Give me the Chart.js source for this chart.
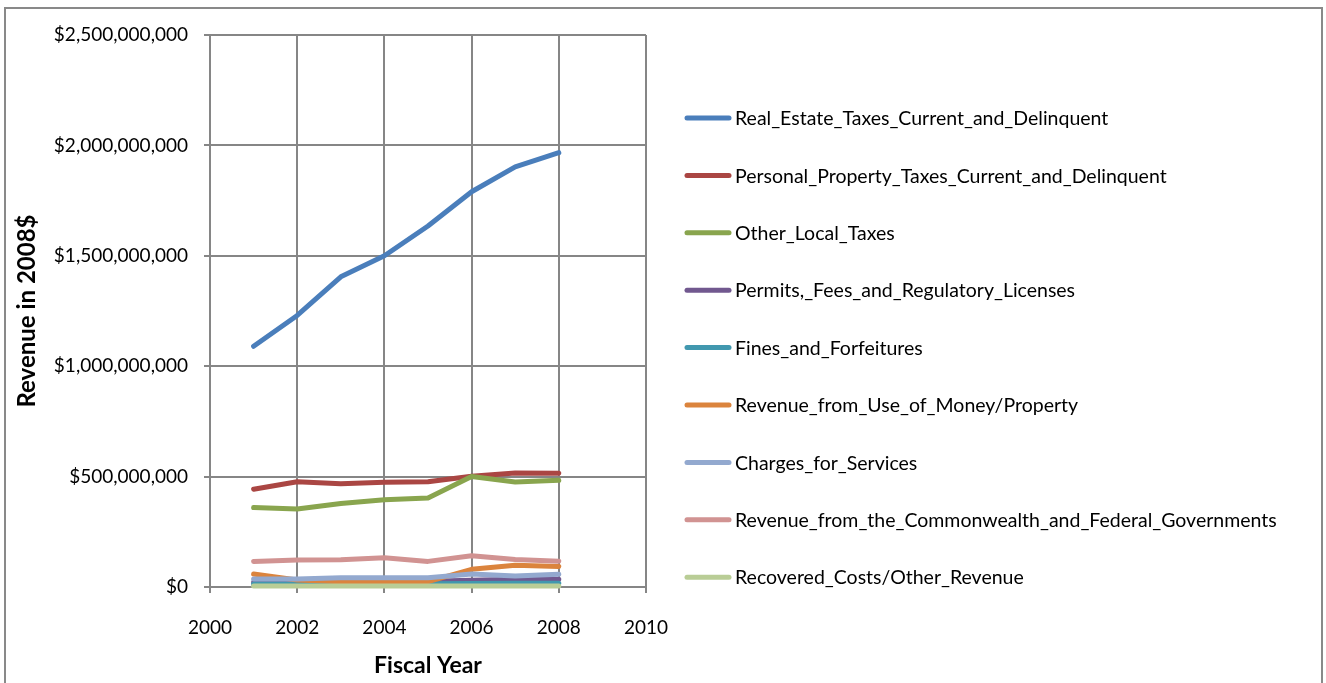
<!DOCTYPE html>
<html>
<head>
<meta charset="utf-8">
<script src="https://cdn.jsdelivr.net/npm/chart.js@4/dist/chart.umd.min.js"></script>
<style>
html,body{margin:0;padding:0;background:#fff;}
#wrap{width:1326px;height:683px;position:relative;}
</style>
</head>
<body>
<div id="wrap"><canvas id="c" width="1326" height="683"></canvas></div>
<script>
const years = [2001, 2002, 2003, 2004, 2005, 2006, 2007, 2008];
const seriesNames = [
  "Real_Estate_Taxes_Current_and_Delinquent",
  "Personal_Property_Taxes_Current_and_Delinquent",
  "Other_Local_Taxes",
  "Permits,_Fees_and_Regulatory_Licenses",
  "Fines_and_Forfeitures",
  "Revenue_from_Use_of_Money/Property",
  "Charges_for_Services",
  "Revenue_from_the_Commonwealth_and_Federal_Governments",
  "Recovered_Costs/Other_Revenue"
];
const realEstate   = [1090e6, 1230e6, 1405e6, 1500e6, 1635e6, 1790e6, 1903e6, 1967e6];
const personalProp = [443e6, 477e6, 468e6, 474e6, 477e6, 502e6, 516e6, 515e6];
const otherLocal   = [360e6, 353e6, 378e6, 395e6, 403e6, 500e6, 476e6, 483e6];
const permits      = [22e6, 22e6, 24e6, 25e6, 26e6, 31e6, 35e6, 35e6];
const fines        = [14e6, 14e6, 15e6, 15e6, 15e6, 16e6, 17e6, 17e6];
const useOfMoney   = [59e6, 32e6, 24e6, 24e6, 24e6, 80e6, 99e6, 93e6];
const charges      = [36e6, 36e6, 42e6, 42e6, 42e6, 59e6, 50e6, 58e6];
const commonwealth = [116e6, 122e6, 123e6, 132e6, 116e6, 142e6, 125e6, 117e6];
const recovered    = [4e6, 4e6, 4e6, 4e6, 4e6, 4e6, 4e6, 4e6];
const yTicks = [0, 500e6, 1000e6, 1500e6, 2000e6, 2500e6];
const xTicks = [2000, 2002, 2004, 2006, 2008, 2010];

const seriesValues = [realEstate, personalProp, otherLocal, permits, fines, useOfMoney, charges, commonwealth, recovered];
const colors = ["#4A7EBB", "#AA4643", "#89A54E", "#71588F", "#4198AF", "#DB843D", "#93A9CF", "#D19392", "#B9CD96"];

const FONT = "Lato";
const datasets = seriesNames.map((n, i) => ({
  label: n,
  data: years.map((y, j) => ({x: y, y: seriesValues[i][j]})),
  borderColor: colors[i],
  backgroundColor: colors[i],
  borderWidth: 5,
  pointRadius: 0,
  pointHoverRadius: 0,
  tension: 0,
  fill: false,
  borderCapStyle: 'round',
  borderJoinStyle: 'round',
  order: seriesNames.length - i,
  clip: false
}));

const fmt = v => '$' + Math.round(v).toLocaleString('en-US');

const frameLegend = {
  id: 'frameLegend',
  afterDraw(chart) {
    const ctx = chart.ctx;
    ctx.save();
    ctx.strokeStyle = '#898989';
    ctx.lineWidth = 2;
    ctx.strokeRect(5, 8, 1317, 700);
    const x0 = 687, x1 = 729, tx = 735, y0 = 118, dy = 57.4;
    ctx.font = '19.5px ' + FONT;
    ctx.textBaseline = 'middle';
    ctx.textAlign = 'left';
    chart.data.datasets.forEach((ds, i) => {
      const y = y0 + i * dy;
      ctx.strokeStyle = ds.borderColor;
      ctx.lineWidth = 5;
      ctx.lineCap = 'round';
      ctx.beginPath(); ctx.moveTo(x0, y); ctx.lineTo(x1, y); ctx.stroke();
      ctx.fillStyle = '#000';
      ctx.fillText(ds.label, tx, y + 1);
    });
    ctx.restore();
  }
};

new Chart(document.getElementById('c'), {
  type: 'line',
  data: { datasets },
  options: {
    responsive: false,
    animation: false,
    events: [],
    layout: { padding: { left: 9, top: 35, right: 680, bottom: 0 } },
    plugins: { legend: { display: false }, tooltip: { enabled: false } },
    scales: {
      x: {
        type: 'linear',
        min: 2000, max: 2010,
        afterBuildTicks: s => { s.ticks = xTicks.map(v => ({value: v})); },
        afterFit: s => { s.height = 96; },
        border: { color: '#868686', width: 2 },
        grid: { color: '#868686', lineWidth: 2, tickLength: 6, drawTicks: true },
        ticks: { color: '#000', font: { family: FONT, size: 19 }, padding: 23, maxRotation: 0, callback: v => String(v) },
        title: { display: true, text: 'Fiscal Year', color: '#000', font: { family: FONT, size: 23, weight: 'bold' }, padding: { top: 12 } }
      },
      y: {
        min: 0, max: 2500e6,
        afterBuildTicks: s => { s.ticks = yTicks.map(v => ({value: v})); },
        afterFit: s => { s.width = 201; },
        border: { color: '#868686', width: 2 },
        grid: { color: '#868686', lineWidth: 2, tickLength: 6 },
        ticks: { color: '#000', font: { family: FONT, size: 19 }, padding: 16, callback: v => fmt(v) },
        title: { display: true, text: 'Revenue in 2008$', color: '#000', font: { family: FONT, size: 24, weight: 'bold' }, padding: { bottom: 0 } }
      }
    }
  },
  plugins: [frameLegend]
});
</script>
</body>
</html>
